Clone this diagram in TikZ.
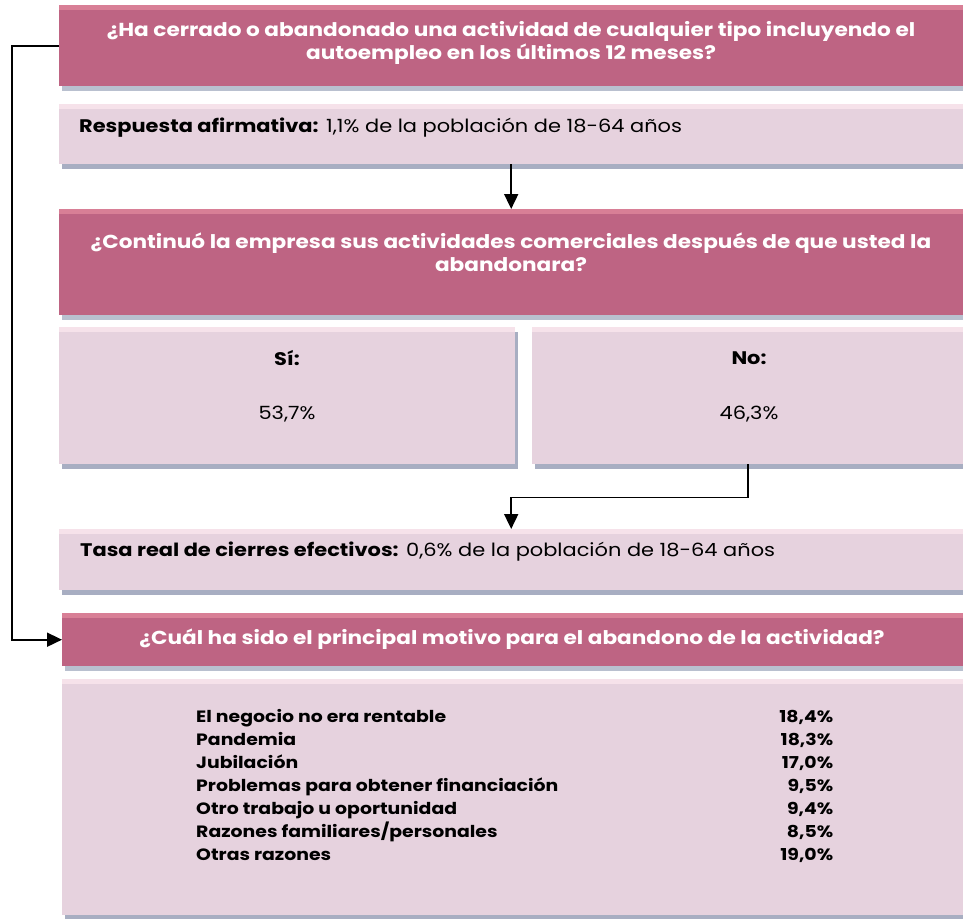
\documentclass[tikz,border=0pt]{standalone}
\usepackage{fontspec}
\setmainfont{Poppins}[FakeStretch=1.15]
\usetikzlibrary{arrows.meta,shadows}
\definecolor{rosa}{RGB}{190,100,131}
\definecolor{rosaclaro}{RGB}{216,127,150}
\definecolor{malva}{RGB}{230,210,222}
\definecolor{malvaclaro}{RGB}{246,226,234}
\definecolor{sombrarosa}{RGB}{185,192,207}
\definecolor{sombramalva}{RGB}{168,174,194}
\tikzset{
  titulo/.style={anchor=north west, inner sep=0pt, fill=rosa,
    drop shadow={shadow xshift=2.5pt, shadow yshift=-5pt, fill=sombrarosa, opacity=1},
    path picture={\fill[rosaclaro] (path picture bounding box.north west) rectangle ([yshift=-5pt]path picture bounding box.north east);}},
  dato/.style={anchor=north west, inner sep=0pt, fill=malva,
    drop shadow={shadow xshift=2.5pt, shadow yshift=-5pt, fill=sombramalva, opacity=1},
    path picture={\fill[malvaclaro] (path picture bounding box.north west) rectangle ([yshift=-5pt]path picture bounding box.north east);}},
  letratitulo/.style={align=center, text=white, inner sep=0pt, font=\bfseries\fontsize{18.8}{23}\selectfont},
  letradato/.style={inner sep=0pt, font=\fontsize{18.2}{20}\selectfont},
  flecha/.style={line width=1.8pt, -{Triangle[width=14pt,length=15pt]}}
}
\begin{document}
\begin{tikzpicture}[x=1pt,y=-1pt]
\useasboundingbox (0,0) rectangle (963,918);
% cajas
\node (q1) at (59,5) [titulo, minimum width=904pt, minimum height=81pt] {};
\node (r1) at (59,104) [dato, minimum width=904pt, minimum height=60pt] {};
\node (q2) at (59,209) [titulo, minimum width=904pt, minimum height=106pt] {};
\node (si) at (59,327) [dato, minimum width=456pt, minimum height=137pt] {};
\node (no) at (532,327) [dato, minimum width=431pt, minimum height=137pt] {};
\node (r2) at (59,529) [dato, minimum width=904pt, minimum height=61pt] {};
\node (q3) at (62,613) [titulo, minimum width=901pt, minimum height=53pt] {};
\node (motivos) at (62,679) [dato, minimum width=901pt, minimum height=236pt] {};
% textos
\node (q1t) at (511,43) [letratitulo] {¿Ha cerrado o abandonado una actividad de cualquier tipo incluyendo el\\autoempleo en los últimos 12 meses?};
\node (r1t) at (79,128) [letradato, anchor=west] {\textbf{Respuesta afirmativa:} 1,1\% de la población de 18-64 años};
\node (q2t) at (511,252) [letratitulo] {¿Continuó la empresa sus actividades comerciales después de que usted la\\abandonara?};
\node (sit) at (287,358) [letradato] {\textbf{Sí:}};
\node (sip) at (287,414) [letradato] {53,7\%};
\node (not) at (749,358) [letradato] {\textbf{No:}};
\node (nop) at (749,414) [letradato] {46,3\%};
\node (r2t) at (80,552) [letradato, anchor=west] {\textbf{Tasa real de cierres efectivos:} 0,6\% de la población de 18-64 años};
\node (q3t) at (512,639) [letratitulo] {¿Cuál ha sido el principal motivo para el abandono de la actividad?};
\node (lista) at (196,787) [anchor=west, inner sep=0pt, font=\bfseries\fontsize{16.4}{23}\selectfont] {%
  \begin{tabular*}{637pt}{@{}l@{\extracolsep{\fill}}r@{}}
  El negocio no era rentable & 18,4\% \\
  Pandemia & 18,3\% \\
  Jubilación & 17,0\% \\
  Problemas para obtener financiación & 9,5\% \\
  Otro trabajo u oportunidad & 9,4\% \\
  Razones familiares/personales & 8,5\% \\
  Otras razones & 19,0\% \\
  \end{tabular*}};
% conectores
\draw[flecha] (q1.west) -- ++(-47,0) |- (q3.west);
\draw[flecha] (r1.south) -- (q2.north);
\draw[flecha] (no.south) -- ++(0,33) -| (r2.north);
\end{tikzpicture}
\end{document}
